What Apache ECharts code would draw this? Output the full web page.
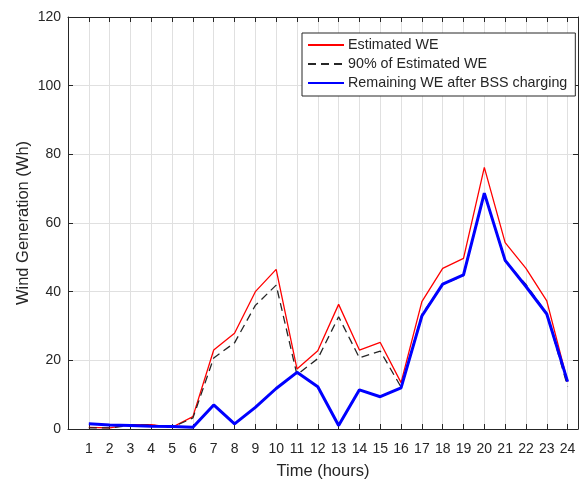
<!DOCTYPE html>
<html><head><meta charset="utf-8">
<script src="https://cdn.jsdelivr.net/npm/echarts@6/dist/echarts.min.js"></script>
<style>html,body{margin:0;padding:0;background:#fff}#c{width:583px;height:480px}</style>
</head><body><div id="c"></div>
<script>
const hours = [1,2,3,4,5,6,7,8,9,10,11,12,13,14,15,16,17,18,19,20,21,22,23,24];
const estimatedWE = [0.5,0.3,1.3,1.3,0.5,3.6,23.0,27.9,40.0,46.5,17.5,22.8,36.3,23.0,25.2,13.5,37.1,46.8,49.7,76.2,54.3,46.8,37.3,13.8];
const pct90WE = [0.3,0.3,1.1,1.1,0.5,3.2,20.7,25.1,36.0,41.9,15.8,20.5,32.7,20.7,22.7,12.2,33.4,42.1,44.7,68.6,48.9,42.1,33.6,12.4];
const remainingWE = [1.5,1.2,1.0,0.8,0.7,0.5,7.0,1.5,6.3,11.8,16.5,12.3,1.0,11.4,9.4,12.0,32.9,42.2,44.9,68.7,49.1,41.5,33.5,13.8];
const seriesNames = ['Estimated WE','90% of Estimated WE','Remaining WE after BSS charging'];

const font = "'Liberation Sans', Arial, sans-serif";
const txt = '#262626';
const pair = arr => hours.map((h,i)=>[h,arr[i]]);

const chart = echarts.init(document.getElementById('c'));
const axisLine = {show:true, onZero:false, lineStyle:{color:txt, width:1}};
const tick = {show:true, inside:true, length:5, lineStyle:{color:txt}};
chart.setOption({
  animation:false,
  backgroundColor:'#fff',
  grid:{left:68, right:5, top:17, bottom:51, containLabel:false, outerBoundsMode:'none'},
  xAxis:[{
    type:'value', min:0, max:24.5, interval:1, position:'bottom',
    name:'Time (hours)', nameLocation:'middle', nameGap:34, nameMoveOverlap:false,
    nameTextStyle:{fontFamily:font, fontSize:16.5, color:txt},
    axisLine:axisLine, axisTick:tick,
    axisLabel:{fontFamily:font, fontSize:14, color:txt, margin:13,
      formatter:v=> (v>=1 && v<=24 && Number.isInteger(v)) ? String(v) : ''},
    splitLine:{show:true, lineStyle:{color:'#e0e0e0', width:1}}
  },{
    type:'value', min:0, max:24.5, interval:1, position:'top',
    axisLine:axisLine, axisTick:tick, axisLabel:{show:false}, splitLine:{show:false}
  }],
  yAxis:[{
    type:'value', min:0, max:120, interval:20, position:'left',
    name:'Wind Generation (Wh)', nameLocation:'middle', nameGap:36, nameRotate:90, nameMoveOverlap:false,
    nameTextStyle:{fontFamily:font, fontSize:16.5, color:txt},
    axisLine:axisLine, axisTick:tick,
    axisLabel:{fontFamily:font, fontSize:14, color:txt, margin:7, padding:[4,0,0,0]},
    splitLine:{show:true, lineStyle:{color:'#e0e0e0', width:1}}
  },{
    type:'value', min:0, max:120, interval:20, position:'right',
    axisLine:axisLine, axisTick:tick, axisLabel:{show:false}, splitLine:{show:false}
  }],
  legend:{
    orient:'vertical', left:302, top:33, itemWidth:36, itemHeight:10, itemGap:5,
    padding:[5,8,6,5], backgroundColor:'#fff', borderColor:txt, borderWidth:1, borderRadius:0,
    itemStyle:{opacity:0},
    textStyle:{fontFamily:font, fontSize:14.3, color:txt, padding:[0,0,0,-1]},
    data:seriesNames
  },
  series:[
    {name:seriesNames[0], type:'line', data:pair(estimatedWE), symbol:'none',
     lineStyle:{color:'#ff0000', width:1.3}, itemStyle:{color:'#ff0000'}, z:3},
    {name:seriesNames[1], type:'line', data:pair(pct90WE), symbol:'none',
     lineStyle:{color:'#262626', width:1.3, type:[8,5]}, itemStyle:{color:'#262626'}, z:4},
    {name:seriesNames[2], type:'line', data:pair(remainingWE), symbol:'none',
     lineStyle:{color:'#0000ff', width:3}, itemStyle:{color:'#0000ff'}, z:5}
  ]
});
</script></body></html>
